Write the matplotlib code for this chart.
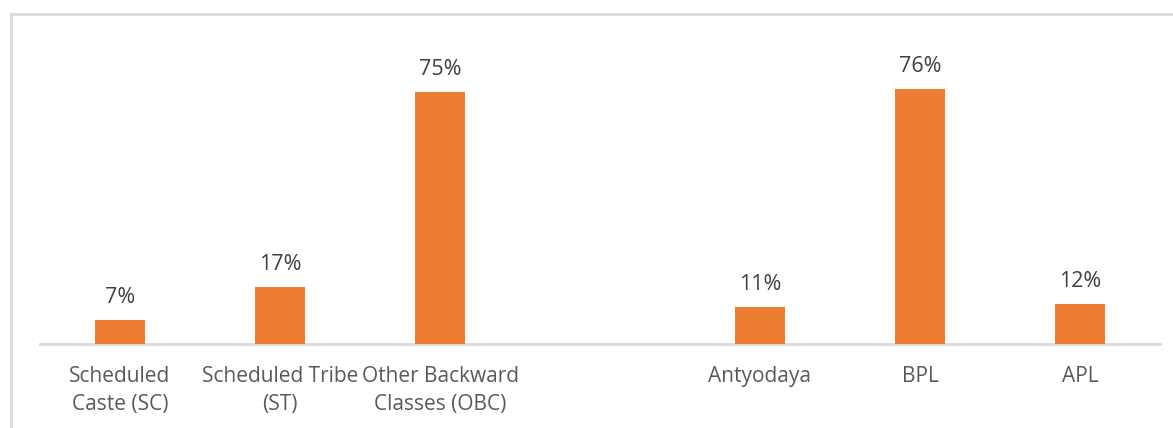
import matplotlib.pyplot as plt

categories = ['Scheduled\nCaste (SC)', 'Scheduled Tribe\n(ST)', 'Other Backward\nClasses (OBC)', '',
              'Antyodaya', 'BPL', 'APL']
values = [7, 17, 75, None, 11, 76, 12]

plt.rcParams['font.family'] = ['Open Sans', 'DejaVu Sans']

fig = plt.figure(figsize=(11.73, 4.28), dpi=100)
W, H = 1173, 428
base = 344
top = base - 90 * 3.36
ax = fig.add_axes([40 / W, 1 - base / H, 1120 / W, (base - top) / H])

xs = [i for i, v in enumerate(values) if v is not None]
vals = [v for v in values if v is not None]
ax.bar(xs, vals, width=0.31, color='#ED7D31', zorder=3)
for x, v in zip(xs, vals):
    ax.text(x, v + 3.6, f'{v}%', ha='center', va='bottom', fontsize=15.5, color='#404040')

ax.set_xlim(-0.5, 6.5)
ax.set_ylim(0, 90)
ax.set_xticks(range(len(categories)))
ax.set_xticklabels(categories, fontsize=15, color='#595959', linespacing=1.45)
ax.tick_params(axis='x', length=0, pad=16)
ax.set_yticks([])
for s in ['top', 'right', 'left']:
    ax.spines[s].set_visible(False)
ax.spines['bottom'].set_color('#D9D9D9')
ax.spines['bottom'].set_linewidth(2)

# chart border (only left and top visible in the crop)
fig.add_artist(plt.Line2D([11 / W, 11 / W], [0, 1 - 14 / H], transform=fig.transFigure,
                          color='#D9D9D9', lw=2))
fig.add_artist(plt.Line2D([11 / W, 1], [1 - 14 / H, 1 - 14 / H], transform=fig.transFigure,
                          color='#D9D9D9', lw=2))

fig.savefig('out.png', dpi=100)
